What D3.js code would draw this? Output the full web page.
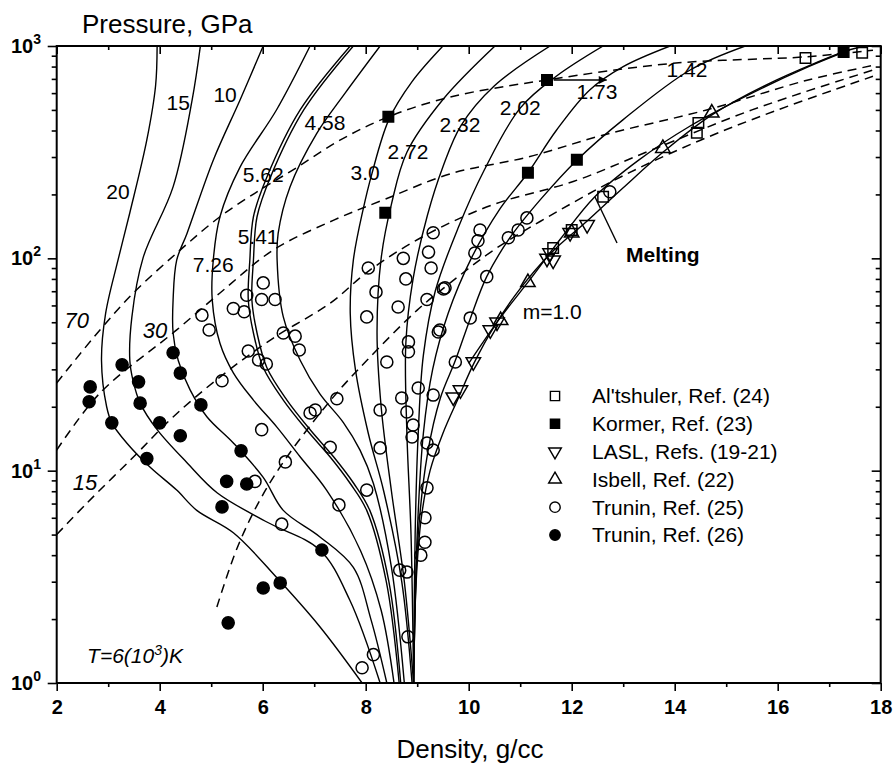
<!DOCTYPE html>
<html><head><meta charset="utf-8">
<script src="https://cdn.jsdelivr.net/npm/d3@7"></script>
<style>
body{margin:0;background:#fff;}
text{font-family:"Liberation Sans", Arial, sans-serif;fill:#000;}
</style></head><body>
<svg id="chart" width="896" height="765"></svg>
<script>
// ---------- axis ticks ----------
const densityTicks = [2,4,6,8,10,12,14,16,18];
const densityMinor = [3,5,7,9,11,13,15,17];
const pressureTicks = [1,10,100,1000];
const pressureExp = ["0","1","2","3"];

// ---------- Hugoniot curves [density, pressure] ----------
const m20  = [[7.93,1],[7.11,1.84],[6.28,3.12],[5.43,5.1],[4.72,6.5],[4.33,8.1],[3.81,10.4],[3.36,13.5],[3.07,16.8],[2.97,20],[2.87,33],[2.95,55],[3.19,98],[3.42,164],[3.75,361],[3.92,650],[3.95,1000]];
const m15  = [[8.28,1],[7.69,2.46],[7.11,4.23],[6.1,5.7],[5.12,7.85],[4.53,10.9],[3.95,15.6],[3.62,20.8],[3.48,26.7],[3.42,33],[3.46,53],[3.68,101],[4.26,217],[4.63,557],[4.79,1000]];
const m10  = [[8.41,1],[8.1,2.0],[7.76,3.5],[7.1,4.9],[6.40,6.5],[6.01,9.3],[5.43,13.5],[4.92,17.9],[4.59,24],[4.36,33],[4.26,44.5],[4.26,63.7],[4.33,98],[4.53,131],[5.04,290],[5.56,557],[6.01,1000]];
const m726 = [[8.55,1],[8.3,2.2],[7.9,4.2],[7.24,8.1],[6.73,11.6],[6.28,16],[5.82,21.5],[5.43,28.9],[5.17,39.8],[5.02,63.7],[5.04,98],[5.17,157],[5.56,269],[6.27,501],[6.92,1000]];
const m562 = [[8.65,1],[8.4,3],[8.02,6.5],[7.70,8.7],[7.31,11.6],[6.86,15.5],[6.40,21.5],[6.01,30.6],[5.82,44.5],[5.72,63.7],[5.75,98],[5.82,157],[6.08,241],[6.73,501],[7.70,1000]];
const m541 = [[8.68,1],[8.45,3],[8.08,6.5],[7.77,8.7],[7.38,11.6],[6.93,15.5],[6.47,21.5],[6.08,30.6],[5.89,44.5],[5.79,63.7],[5.82,98],[5.89,157],[6.15,241],[6.80,501],[7.76,1000]];
const m458 = [[8.75,1],[8.5,3.5],[8.15,8.7],[7.89,12.5],[7.57,16.8],[7.11,23],[6.73,33],[6.40,53],[6.28,98],[6.30,131],[6.53,217],[7.05,388],[7.6,600],[8.28,1000]];
const m300 = [[8.9,1],[8.7,3],[8.35,8],[8.05,15],[7.8,30],[7.70,55],[7.76,98],[7.95,170],[8.12,250],[8.45,450],[8.9,680],[9.5,1000]];
const m272 = [[8.93,1],[8.75,3],[8.5,8],[8.3,20],[8.22,45],[8.3,100],[8.5,180],[8.8,316],[9.5,560],[10.51,1000]];
const m232 = [[8.93,1],[8.88,5],[8.8,15],[8.78,40],[8.92,80],[9.2,160],[9.5,270],[9.85,422],[10.5,650],[11.58,1000]];
const m202 = [[8.93,1],[8.96,5],[9.02,15],[9.12,35],[9.35,70],[9.8,140],[10.3,260],[11.0,510],[11.7,720],[12.61,1000]];
const m173 = [[8.93,1],[9.0,5],[9.12,15],[9.3,30],[9.6,55],[10.05,100],[10.6,170],[11.15,253],[11.7,400],[12.35,621],[13.0,800],[13.91,1000]];
const m142 = [[8.93,1],[9.02,5],[9.2,12],[9.45,22],[9.74,33],[10.03,52],[10.35,82],[10.8,125],[11.4,190],[12.1,290],[13.0,450],[14.3,771],[15.37,1000]];
const m100 = [[8.93,1],[8.98,3],[9.08,6],[9.25,10],[9.5,15],[9.8,22],[10.1,32],[10.5,48],[11.0,72],[11.6,106],[12.3,150],[13.0,215],[13.8,320],[14.7,470],[15.8,660],[17.4,960],[17.7,1000]];
const melting = [[10.0,32],[10.6,52],[11.2,80],[11.8,125],[12.44,194],[13.3,290],[14.3,420],[15.5,600],[16.6,800],[17.4,960]];

// ---------- isotherms (dashed), T in 10^3 K ----------
const iso70 = [[2.0,25.9],[2.84,46],[3.49,68.7],[4.39,109],[5.17,157],[5.95,210],[6.59,261],[7.5,360],[8.44,464],[9.64,575],[11.52,692],[13.97,829],[16.57,890],[17.85,955]];
const iso30 = [[2.0,12.5],[2.84,23.2],[4.33,46],[5.17,68.7],[6.21,109.6],[7.37,151],[8.38,190],[9.64,250],[11.15,300],[12.6,380],[14.62,500],[16.57,690],[17.85,810]];
const iso15 = [[2.0,5.0],[2.59,7.05],[3.49,11.6],[4.26,17.9],[5.17,27.6],[6.2,42],[7.31,61.5],[8.08,88],[9.2,130],[10.5,180],[12.03,230],[13.5,320],[15.5,500],[17.85,770]];
const iso6  = [[5.11,2.28],[5.5,4.3],[5.95,7.3],[6.47,11.6],[7.37,22.2],[8.02,33],[9.0,57],[9.64,76.6],[10.5,110],[11.7,165],[13.0,245],[14.5,360],[16.0,500],[17.85,720]];

// ---------- experimental data [density, pressure] ----------
const altshuler = [[16.54,879],[17.64,930],[14.46,434],[14.43,390],[12.61,195],[12.0,136],[11.64,112]];
const kormer = [[8.44,464],[8.38,164],[11.52,692],[11.15,253],[12.1,291],[17.28,938]];
const lasl = [[11.58,106],[11.97,132],[12.3,144],[11.52,100],[11.64,98],[10.55,50],[10.42,46],[10.09,32.5],[9.84,24],[9.7,22.2]];
const isbell = [[14.72,484],[13.77,330],[11.15,77],[10.62,51],[12.0,132]];
const trunin25 = [[6.01,76.6],[5.69,67],[5.98,64],[6.24,64],[5.43,58],[5.64,56],[4.82,54],[4.96,46],[6.40,44.5],[6.63,43],[6.71,37],[5.72,36.6],[5.92,33.2],[6.07,31.8],[5.21,26.5],[7.44,21.8],[6.92,18.7],[7.02,19.3],[5.98,15.6],[7.31,12.9],[6.44,11],[5.85,8.9],[8.02,8.1],[7.48,6.9],
 [8.05,90],[8.73,100],[9.22,107],[8.78,80],[8.2,69.5],[9.27,90],[9.19,64],[9.51,71.8],[8.02,53],[8.63,59],[9.41,45],[8.83,40.4],[8.83,36.3],[8.41,32.5],[9.02,24.5],[8.70,22],[9.31,22.7],[8.28,19.3],[8.80,18.9],[8.92,16.4],[8.90,14.4],[8.28,12.8],[9.19,13.5],[9.31,12.5],[9.19,8.3],
 [6.37,5.6],[9.15,6.0],[9.15,4.6],[9.07,4.0],[8.66,3.4],[8.80,3.33],[8.82,1.65],[8.15,1.36],[7.93,1.18],
 [10.22,136],[10.18,121],[10.12,106],[10.77,125],[10.96,136],[11.13,155],[12.74,206],
 [10.35,82],[9.54,72.6],[9.44,46],[10.03,52.4],[9.74,32.5],[9.31,132]];
const trunin26 = [[2.65,24.8],[2.63,21.1],[3.27,31.5],[3.59,26.2],[3.62,20.8],[3.07,16.8],[4.0,16.8],[3.75,11.4],[4.40,14.6],[4.26,35.9],[4.40,28.8],[4.80,20.4],[5.58,12.4],[5.30,8.9],[5.69,8.66],[5.21,6.75],[7.15,4.23],[6.01,2.8],[6.34,2.96],[5.33,1.92]];

// ---------- labels ----------
const curveLabels = [["20",3.19,205],["15",4.36,540],["10",5.27,589],["4.58",7.21,434],["5.62",6.01,247],["5.41",5.91,126],["3.0",7.99,253],["2.72",8.82,317],["2.32",9.83,425],["2.02",11.0,511],["1.73",12.49,608],["1.42",14.24,771],["7.26",5.04,93],["m=1.0",11.62,56]];
const isoLabels = [["70",2.39,51.3],["30",3.91,46],["15",2.55,8.85]];
const legendItems = ["Al'tshuler, Ref. (24)","Kormer, Ref. (23)","LASL, Refs. (19-21)","Isbell, Ref. (22)","Trunin, Ref. (25)","Trunin, Ref. (26)"];

// ---------- drawing ----------
const svg = d3.select("#chart");
svg.append("rect").attr("width",896).attr("height",765).attr("fill","#fff");
const x = d3.scaleLinear().domain([2,18]).range([56.7,880.7]);
const y = d3.scaleLog().domain([1,1000]).range([683,46]);
const X0=x(2), X1=x(18), Y0=y(1), Y1=y(1000);

svg.append("defs").append("clipPath").attr("id","clip")
  .append("rect").attr("x",X0).attr("y",Y1).attr("width",X1-X0).attr("height",Y0-Y1);

const plot = svg.append("g").attr("clip-path","url(#clip)");
const line = d3.line().x(d=>x(d[0])).y(d=>y(d[1])).curve(d3.curveCatmullRom.alpha(0.5));

[m20,m15,m10,m726,m562,m541,m458,m300,m272,m232,m202,m173,m142,m100,melting].forEach(c=>{
  plot.append("path").attr("d",line(c)).attr("fill","none").attr("stroke","#000").attr("stroke-width",1.4);
});
[iso70,iso30,iso15,iso6].forEach(c=>{
  plot.append("path").attr("d",line(c)).attr("fill","none").attr("stroke","#000").attr("stroke-width",1.5).attr("stroke-dasharray","9,6");
});

// symbols
function drawSym(data, type, size, filled, rot){
  plot.selectAll(null).data(data).enter().append("path")
    .attr("d", d3.symbol().type(type).size(size)())
    .attr("transform", d=>`translate(${x(d[0])},${y(d[1])})${rot?" rotate(180)":""}`)
    .attr("fill", filled?"#000":"none").attr("stroke","#000").attr("stroke-width",1.5);
}
drawSym(altshuler, d3.symbolSquare, 110, false);
drawSym(kormer, d3.symbolSquare, 110, true);
drawSym(lasl, d3.symbolTriangle, 90, false, true);
drawSym(isbell, d3.symbolTriangle, 90, false);
drawSym(trunin25, d3.symbolCircle, 115, false);
drawSym(trunin26, d3.symbolCircle, 115, true);

// arrow from Kormer point
svg.append("defs").append("marker").attr("id","arr").attr("viewBox","0 0 10 10").attr("refX",10).attr("refY",5)
  .attr("markerWidth",12).attr("markerHeight",8).attr("markerUnits","userSpaceOnUse").attr("orient","auto")
  .append("path").attr("d","M0,0L10,5L0,10Z").attr("fill","#000");
const arrowPts = [[11.65,692],[12.68,692]];
svg.append("line").attr("x1",x(arrowPts[0][0])).attr("y1",y(arrowPts[0][1])).attr("x2",x(arrowPts[1][0])).attr("y2",y(arrowPts[1][1]))
  .attr("stroke","#000").attr("stroke-width",1.4).attr("marker-end","url(#arr)");

// melting pointer
const meltPointer = [[12.88,118],[12.45,195]];
svg.append("line").attr("x1",x(meltPointer[0][0])).attr("y1",y(meltPointer[0][1])).attr("x2",x(meltPointer[1][0])).attr("y2",y(meltPointer[1][1]))
  .attr("stroke","#000").attr("stroke-width",1.4);

// curve labels
curveLabels.forEach(l=>{
  svg.append("text").attr("x",x(l[1])).attr("y",y(l[2])).attr("dy","0.35em").attr("text-anchor","middle")
    .style("font-size","21px").text(l[0]);
});
isoLabels.forEach(l=>{
  svg.append("text").attr("x",x(l[1])).attr("y",y(l[2])).attr("dy","0.35em").attr("text-anchor","middle")
    .style("font-size","22px").style("font-style","italic").text(l[0]);
});
svg.append("text").attr("x",x(13.77)).attr("y",y(104)).attr("dy","0.35em").attr("text-anchor","middle")
  .style("font-size","21px").style("font-weight","bold").text("Melting");
const tl = svg.append("text").attr("x",x(2.59)).attr("y",663).style("font-size","21px").style("font-style","italic");
tl.append("tspan").text("T=6(10");
tl.append("tspan").attr("dy",-8).style("font-size","14px").text("3");
tl.append("tspan").attr("dy",8).text(")K");

// axes
const axG = svg.append("g");
const styleAxis = g=>{ g.select(".domain").remove(); g.selectAll("line").attr("stroke","#000").attr("stroke-width",1.6); };
axG.append("g").attr("transform",`translate(0,${Y0})`)
  .call(d3.axisBottom(x).tickValues(densityTicks).tickSize(8).tickPadding(9).tickFormat(d3.format("d")))
  .call(styleAxis).selectAll("text").style("font-size","20px").style("font-weight","bold").style("font-family","Liberation Sans, Arial, sans-serif");
axG.append("g").attr("transform",`translate(0,${Y0})`)
  .call(d3.axisBottom(x).tickValues(densityMinor).tickSize(4).tickFormat("")).call(styleAxis);
axG.append("g").attr("transform",`translate(0,${Y1})`)
  .call(d3.axisTop(x).tickValues(densityTicks).tickSize(-8).tickFormat("")).call(styleAxis);
axG.append("g").attr("transform",`translate(0,${Y1})`)
  .call(d3.axisTop(x).tickValues(densityMinor).tickSize(-4).tickFormat("")).call(styleAxis);

const pMinor = [];
[1,10,100].forEach(b=>{ for(let k=2;k<=9;k++) pMinor.push(b*k); });
axG.append("g").attr("transform",`translate(${X0},0)`)
  .call(d3.axisLeft(y).tickValues(pressureTicks).tickSize(9).tickFormat("")).call(styleAxis);
axG.append("g").attr("transform",`translate(${X0},0)`)
  .call(d3.axisLeft(y).tickValues(pMinor).tickSize(5).tickFormat("")).call(styleAxis);
axG.append("g").attr("transform",`translate(${X1},0)`)
  .call(d3.axisRight(y).tickValues(pressureTicks).tickSize(-9).tickFormat("")).call(styleAxis);
axG.append("g").attr("transform",`translate(${X1},0)`)
  .call(d3.axisRight(y).tickValues(pMinor).tickSize(-5).tickFormat("")).call(styleAxis);

pressureTicks.forEach((p,i)=>{
  const t = svg.append("text").attr("x",41).attr("y",y(p)+7).attr("text-anchor","end")
    .style("font-size","20px").style("font-weight","bold");
  t.append("tspan").text("10");
  t.append("tspan").attr("dy",-9).style("font-size","14px").text(pressureExp[i]);
});

svg.append("rect").attr("x",X0).attr("y",Y1).attr("width",X1-X0).attr("height",Y0-Y1)
  .attr("fill","none").attr("stroke","#000").attr("stroke-width",2);

// titles
svg.append("text").attr("x",82).attr("y",33).style("font-size","26px").text("Pressure, GPa");
svg.append("text").attr("x",470).attr("y",758).attr("text-anchor","middle").style("font-size","26px").text("Density, g/cc");

// legend
const legTypes = [[d3.symbolSquare,false,false],[d3.symbolSquare,true,false],[d3.symbolTriangle,false,true],[d3.symbolTriangle,false,false],[d3.symbolCircle,false,false],[d3.symbolCircle,true,false]];
legendItems.forEach((name,i)=>{
  const cy = 396 + i*27.8;
  const [type,filled,rot] = legTypes[i];
  svg.append("path").attr("d",d3.symbol().type(type).size(type===d3.symbolTriangle?70:85)())
    .attr("transform",`translate(555,${cy})${rot?" rotate(180)":""}`)
    .attr("fill",filled?"#000":"none").attr("stroke","#000").attr("stroke-width",1.4);
  svg.append("text").attr("x",592).attr("y",cy).attr("dy","0.35em").style("font-size","21px").text(name);
});
</script>
</body></html>
